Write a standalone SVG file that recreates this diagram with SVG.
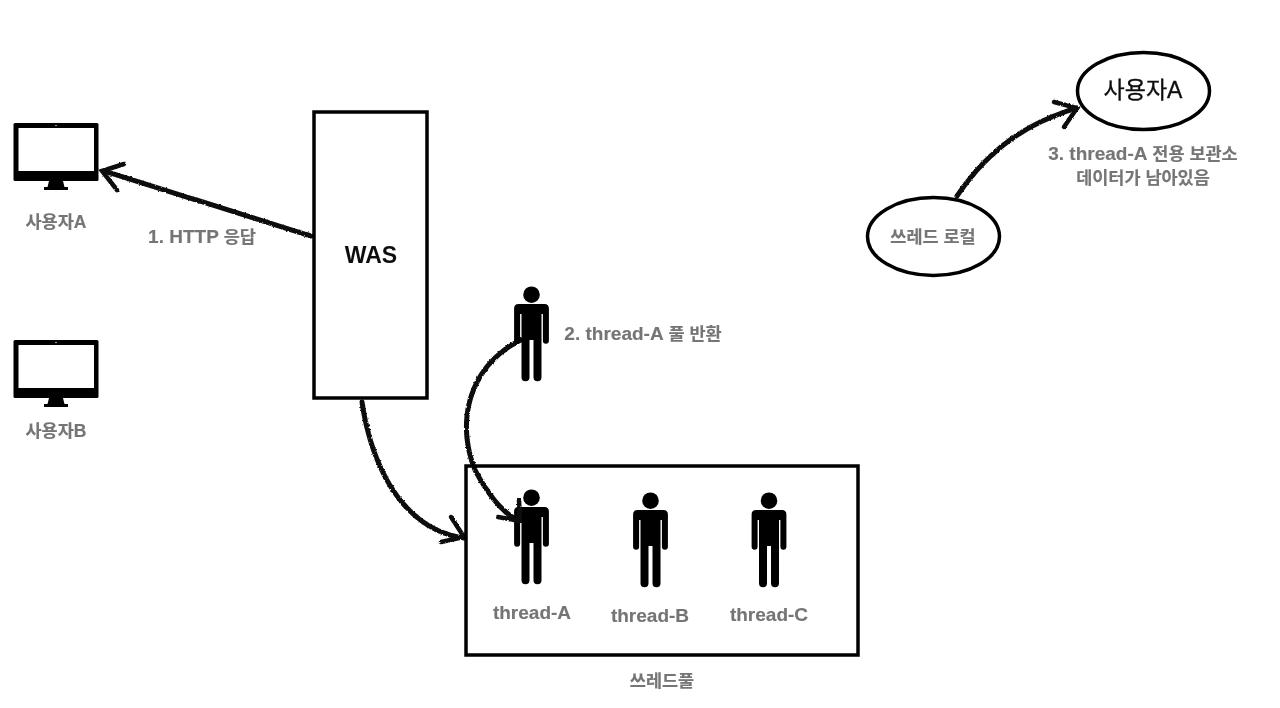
<svg xmlns="http://www.w3.org/2000/svg" width="1280" height="708" viewBox="0 0 1280 708">
<style>
text{font-family:"Liberation Sans","Noto Sans CJK KR",sans-serif;text-anchor:middle}
.g{fill:#757575;font-weight:700;font-size:17.500px;stroke:#757575;stroke-width:.15}
.l{font-size:19px}
.k{fill:#111;font-size:23px;stroke:#111;stroke-width:.35}
.box{fill:#fff;stroke:#000;stroke-width:3.5}
.c{fill:none;stroke:#0a0a0a;stroke-width:5;stroke-linecap:round;stroke-dasharray:5 .8}
.h{fill:none;stroke:#111;stroke-width:4.500;stroke-linecap:round}
</style>
<defs>
<filter id="rough" x="-5%" y="-5%" width="110%" height="110%">
<feTurbulence type="fractalNoise" baseFrequency="0.45" numOctaves="2" seed="4"/>
<feDisplacementMap in="SourceGraphic" scale="2.500" xChannelSelector="R" yChannelSelector="G"/>
</filter>
<filter id="soft" x="0" y="0" width="100%" height="100%"><feGaussianBlur stdDeviation=".45"/></filter>
<g id="monitor">
<path d="M-41-43h82a1.500 1.500 0 0 1 1.500 1.500v55a1.500 1.500 0 0 1-1.500 1.500h-82a1.500 1.500 0 0 1-1.500-1.500v-55a1.500 1.500 0 0 1 1.500-1.500z" fill="#000"/>
<rect x="-37.500" y="-38" width="75.500" height="43" fill="#fff"/>
<circle cx="0" cy="-40.500" r=".8" fill="#ccc"/>
<path d="M-7 15h14l1.500 6h3.500v3h-24v-3h3.500z" fill="#000"/>
</g>
<g id="person">
<circle cx="0" cy="-39.300" r="8.300" fill="#000"/>
<path d="M-13-30H13Q17.400-30 17.400-25.500V6.700A3 3 0 0 1 11.400 6.700V-20H10V43.200A4 4 0 0 1 2 43.200V6H-2V43.200A4 4 0 0 1-10 43.200V-20H-11.400V6.700A3 3 0 0 1-17.400 6.700V-25.500Q-17.400-30-13-30z" fill="#000"/>
</g>
</defs>
<g filter="url(#soft)">
<rect width="1280" height="708" fill="#fff"/>
<g id="connectors" filter="url(#rough)">
<path class="c" d="M311 236 L104 171"/>
<path class="h" d="M124 164 L102 171 L117 190"/>
<path class="c" d="M362 402 C372 470 405 530 464 538"/>
<path class="h" d="M451 517 L464 537 L441 542"/>
<path class="c" d="M521 340 C470 365 455 420 475 470 C488 495 505 515 518 520"/>
<path class="c" d="M957 196 C985 155 1020 125 1077 108"/>
<path class="h" d="M1054 102 L1077 108 L1064 127"/>
</g>
<g id="user-a">
<use href="#monitor" x="56" y="166"/>
<text class="g" x="56" y="228">사용자A</text>
</g>
<g id="user-b">
<use href="#monitor" x="56" y="383"/>
<text class="g" x="56" y="437">사용자B</text>
</g>
<g id="label-http"><text class="g" x="202" y="243"><tspan class="l">1. HTTP</tspan> 응답</text></g>
<g id="was">
<rect class="box" x="314" y="112" width="113" height="286"/>
<text x="371" y="263" font-size="23" font-weight="700" fill="#111">WAS</text>
</g>
<g id="returned-thread">
<use href="#person" x="531.500" y="334"/>
<text class="g" x="643" y="340"><tspan class="l">2. thread-A</tspan> 풀 반환</text>
</g>
<g id="thread-pool">
<rect x="466" y="466" width="392" height="189" fill="none" stroke="#000" stroke-width="3.500"/>
<text class="g" x="662" y="687">쓰레드풀</text>
</g>
<g id="thread-a">
<use href="#person" x="531.500" y="537"/>
<text class="g" x="532" y="619"><tspan class="l">thread-A</tspan></text>
</g>
<g id="thread-b">
<use href="#person" x="650.500" y="540"/>
<text class="g" x="650" y="622"><tspan class="l">thread-B</tspan></text>
</g>
<g id="thread-c">
<use href="#person" x="769" y="540"/>
<text class="g" x="769" y="621"><tspan class="l">thread-C</tspan></text>
</g>
<g id="thread-a-arrowhead" filter="url(#rough)">
<path class="h" d="M519 500 L520 521 L498 517"/>
</g>
<g id="thread-local">
<ellipse class="box" cx="933.500" cy="236.500" rx="66" ry="39"/>
<text class="g" x="933" y="243">쓰레드 로컬</text>
</g>
<g id="user-a-store">
<ellipse class="box" cx="1143.500" cy="91" rx="66" ry="38.500"/>
<text class="k" x="1143" y="98">사용자A</text>
</g>
<g id="label-store">
<text class="g" x="1143" y="160"><tspan class="l">3. thread-A</tspan> 전용 보관소</text>
<text class="g" x="1143" y="184">데이터가 남아있음</text>
</g>
</g>
</svg>
